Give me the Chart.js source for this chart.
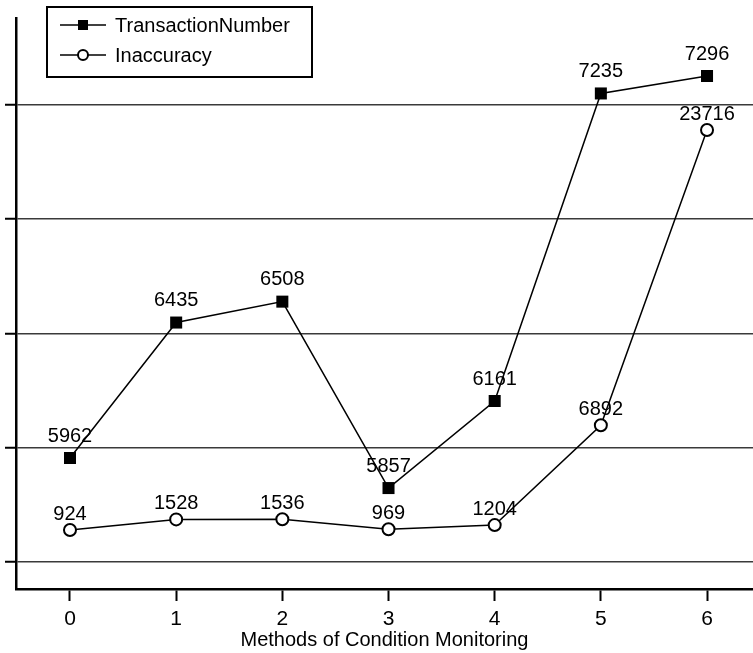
<!DOCTYPE html>
<html><head><meta charset="utf-8">
<script src="https://cdn.jsdelivr.net/npm/chart.js@4"></script>
<style>html,body{margin:0;padding:0;background:#fff}#wrap{width:753px;height:653px}</style>
</head><body><div id="wrap"><canvas id="c" width="753" height="653"></canvas></div>
<script>
// ---- data ----
const categories = [0, 1, 2, 3, 4, 5, 6];
const transactionNumber = [5962, 6435, 6508, 5857, 6161, 7235, 7296];
const inaccuracy = [924, 1528, 1536, 969, 1204, 6892, 23716];
const seriesNames = ['TransactionNumber', 'Inaccuracy'];
const xTitle = 'Methods of Condition Monitoring';
const gridSteps = [0, 1, 2, 3, 4];

Chart.defaults.font.family = "'Liberation Sans', Arial, sans-serif";
Chart.defaults.color = '#000';

const valueLabels = {
  id: 'valueLabels',
  afterDatasetsDraw(chart) {
    const ctx = chart.ctx;
    ctx.save();
    ctx.font = "20px 'Liberation Sans', Arial, sans-serif";
    ctx.fillStyle = '#000';
    ctx.textAlign = 'center';
    ctx.textBaseline = 'middle';
    chart.data.datasets.forEach((ds, di) => {
      const meta = chart.getDatasetMeta(di);
      const off = di === 0 ? 22 : 16;
      meta.data.forEach((el, i) => {
        ctx.fillText(String(ds.data[i].y), el.x, el.y - off);
      });
    });
    ctx.restore();
  }
};

const boxLegend = {
  id: 'boxLegend',
  afterDraw(chart) {
    const ctx = chart.ctx;
    ctx.save();
    ctx.fillStyle = '#fff';
    ctx.fillRect(47, 7, 265, 70);
    ctx.strokeStyle = '#000';
    ctx.lineWidth = 2;
    ctx.strokeRect(47, 7, 265, 70);
    const rows = [25, 55];
    chart.data.datasets.forEach((ds, i) => {
      const y = rows[i];
      ctx.strokeStyle = '#000';
      ctx.lineWidth = 1.5;
      ctx.beginPath(); ctx.moveTo(60, y); ctx.lineTo(106, y); ctx.stroke();
      if (i === 0) {
        ctx.fillStyle = '#000';
        ctx.fillRect(78, y - 5, 10, 10);
      } else {
        ctx.fillStyle = '#fff';
        ctx.beginPath(); ctx.arc(83, y, 5, 0, Math.PI * 2); ctx.fill();
        ctx.lineWidth = 2; ctx.stroke();
      }
      ctx.fillStyle = '#000';
      ctx.font = "20px 'Liberation Sans', Arial, sans-serif";
      ctx.textAlign = 'left';
      ctx.textBaseline = 'middle';
      ctx.fillText(ds.label, 115, y + 1);
    });
    ctx.restore();
  }
};

new Chart(document.getElementById('c'), {
  type: 'line',
  data: {
    datasets: [
      {
        label: seriesNames[0],
        data: categories.map((c, i) => ({ x: c, y: transactionNumber[i] })),
        yAxisID: 'yT', xAxisID: 'x',
        borderColor: '#000', borderWidth: 1.5,
        pointStyle: 'rect', pointRadius: 8.5,
        pointBackgroundColor: '#000', pointBorderColor: '#000', pointBorderWidth: 0,
        fill: false, tension: 0, clip: false
      },
      {
        label: seriesNames[1],
        data: categories.map((c, i) => ({ x: c, y: inaccuracy[i] })),
        yAxisID: 'yI', xAxisID: 'x',
        borderColor: '#000', borderWidth: 1.5,
        pointStyle: 'circle', pointRadius: 6,
        pointBackgroundColor: '#fff', pointBorderColor: '#000', pointBorderWidth: 2,
        fill: false, tension: 0, clip: false
      }
    ]
  },
  options: {
    responsive: false,
    animation: false,
    devicePixelRatio: 1,
    layout: { autoPadding: false, padding: { left: 5, top: 18, right: 0, bottom: 1 } },
    plugins: { legend: { display: false }, tooltip: { enabled: false } },
    scales: {
      x: {
        type: 'linear', position: 'bottom', min: -0.5086, max: 6.433,
        afterBuildTicks: s => { s.ticks = categories.map(v => ({ value: v })); },
        afterFit: s => { s.paddingLeft = 0; s.paddingRight = 0; s.height = 63; },
        grid: { display: true, drawOnChartArea: false, drawTicks: true, tickLength: 12, tickColor: '#000', tickWidth: 2 },
        border: { display: true, color: '#000', width: 2.5 },
        ticks: { color: '#000', font: { size: 21, lineHeight: 1 }, padding: 8, maxRotation: 0, autoSkip: false, callback: v => String(v) },
        title: { display: true, text: xTitle, color: '#000', font: { size: 20 }, padding: { top: 0, bottom: 0 } }
      },
      g: {
        type: 'linear', position: 'left', min: -0.236, max: 4.761,
        afterBuildTicks: s => { s.ticks = gridSteps.map(v => ({ value: v })); },
        afterFit: s => { s.paddingTop = 0; s.paddingBottom = 0; },
        grid: { color: '#3a3a3a', lineWidth: 1.5, drawTicks: true, tickLength: 11, tickColor: '#000', tickWidth: 2 },
        border: { display: true, color: '#000', width: 2.5 },
        ticks: { display: false }
      },
      yT: { type: 'linear', display: false, min: 5504.5, max: 7498.5 },
      yI: { type: 'linear', display: false, min: -2438, max: 30098 }
    }
  },
  plugins: [valueLabels, boxLegend]
});
</script>
</body></html>
